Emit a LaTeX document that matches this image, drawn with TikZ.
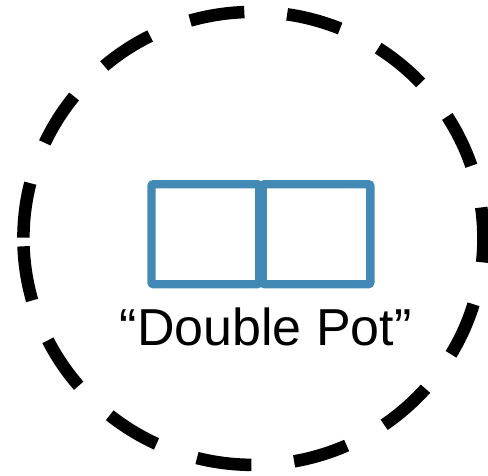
\documentclass[tikz,border=0pt]{standalone}
\usepackage{fontspec}
\setmainfont{Liberation Sans}
\usetikzlibrary{positioning}
\definecolor{potblue}{RGB}{66,137,181}

\begin{document}
\begin{tikzpicture}[x=1pt, y=1pt,
    pot/.style={draw=potblue, line width=8.3pt, rounded corners=2pt,
                minimum width=107.7pt, minimum height=100pt, inner sep=0pt}]
    \useasboundingbox (0,0) rectangle (488,475);
    \coordinate (centre) at (253.4,236.6);
    \draw[line width=12.5pt, dash pattern=on 55pt off 42.9pt]
        (centre) ++(182:230pt and 226.5pt)
        arc[start angle=182, end angle=542, x radius=230pt, y radius=226.5pt];
    \node[pot] (potleft)  at (205.35,240.8) {};
    \node[pot] (potright) at (316.5,240.8) {};
    \node[font=\fontsize{52}{56}\selectfont, anchor=base, inner sep=0pt]
        (label) at (265.8,130) {“Double Pot”};
\end{tikzpicture}
\end{document}
